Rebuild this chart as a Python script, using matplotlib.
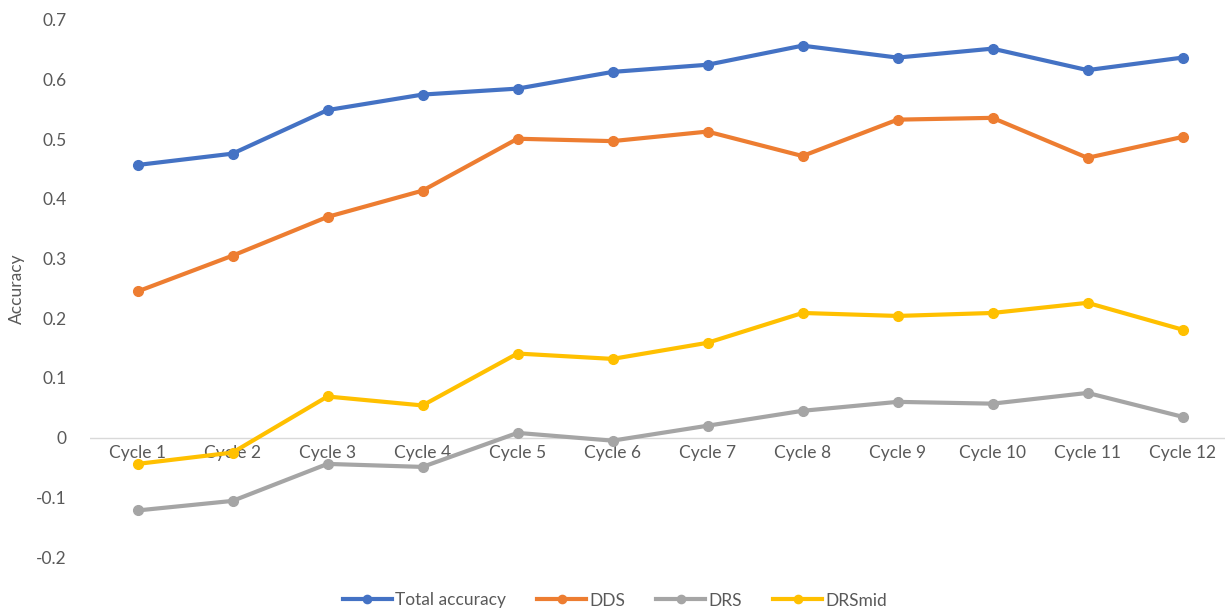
import matplotlib.pyplot as plt
import numpy as np

# data
cycles = ['Cycle 1', 'Cycle 2', 'Cycle 3', 'Cycle 4', 'Cycle 5', 'Cycle 6',
          'Cycle 7', 'Cycle 8', 'Cycle 9', 'Cycle 10', 'Cycle 11', 'Cycle 12']
total_acc = [0.457, 0.476, 0.549, 0.575, 0.585, 0.613, 0.625, 0.657, 0.637, 0.652, 0.616, 0.637]
dds = [0.245, 0.305, 0.370, 0.414, 0.501, 0.497, 0.513, 0.472, 0.533, 0.536, 0.469, 0.504]
drs = [-0.122, -0.106, -0.044, -0.049, 0.008, -0.005, 0.020, 0.045, 0.060, 0.057, 0.075, 0.035]
drs_mid = [-0.044, -0.025, 0.069, 0.054, 0.141, 0.132, 0.159, 0.209, 0.204, 0.209, 0.226, 0.181]

plt.rcParams['font.family'] = ['Lato', 'DejaVu Sans']
txt = '#595959'
fs = 12.5

fig = plt.figure(figsize=(12.25, 6.10), dpi=100)
ax = fig.add_axes([90 / 1225, 53 / 610, 1140 / 1225, 537 / 610])

x = np.arange(len(cycles))
series = [('Total accuracy', total_acc, '#4472C4'),
          ('DDS', dds, '#ED7D31'),
          ('DRS', drs, '#A5A5A5'),
          ('DRSmid', drs_mid, '#FFC000')]
for name, vals, col in series:
    ax.plot(x, vals, color=col, lw=3, marker='o', ms=7, label=name, zorder=3)

ax.set_xlim(-0.5, len(cycles) - 0.5)
ax.set_ylim(-0.2, 0.7)
ax.set_yticks(np.arange(-0.2, 0.71, 0.1))
ax.set_yticklabels(['-0.2', '-0.1', '0', '0.1', '0.2', '0.3', '0.4', '0.5', '0.6', '0.7'])
ax.tick_params(axis='y', length=0, pad=17, labelsize=fs, labelcolor=txt)

for s in ax.spines.values():
    s.set_visible(False)
ax.axhline(0, color='#D9D9D9', lw=1, zorder=1)

# category labels sit just under the zero line
ax.set_xticks([])
for i, c in enumerate(cycles):
    ax.text(i, -0.012, c, ha='center', va='top', fontsize=fs, color=txt, zorder=2)

ax.set_ylabel('Accuracy', fontsize=fs, color=txt, labelpad=8)

ax.legend(loc='lower center', bbox_to_anchor=(0.5 - 45 / 1140, -0.125), ncol=4, frameon=False,
          fontsize=fs, labelcolor=txt, handlelength=2.8, handletextpad=0.2, columnspacing=1.8,
          markerscale=0.85)

fig.savefig('out.png', dpi=100)
